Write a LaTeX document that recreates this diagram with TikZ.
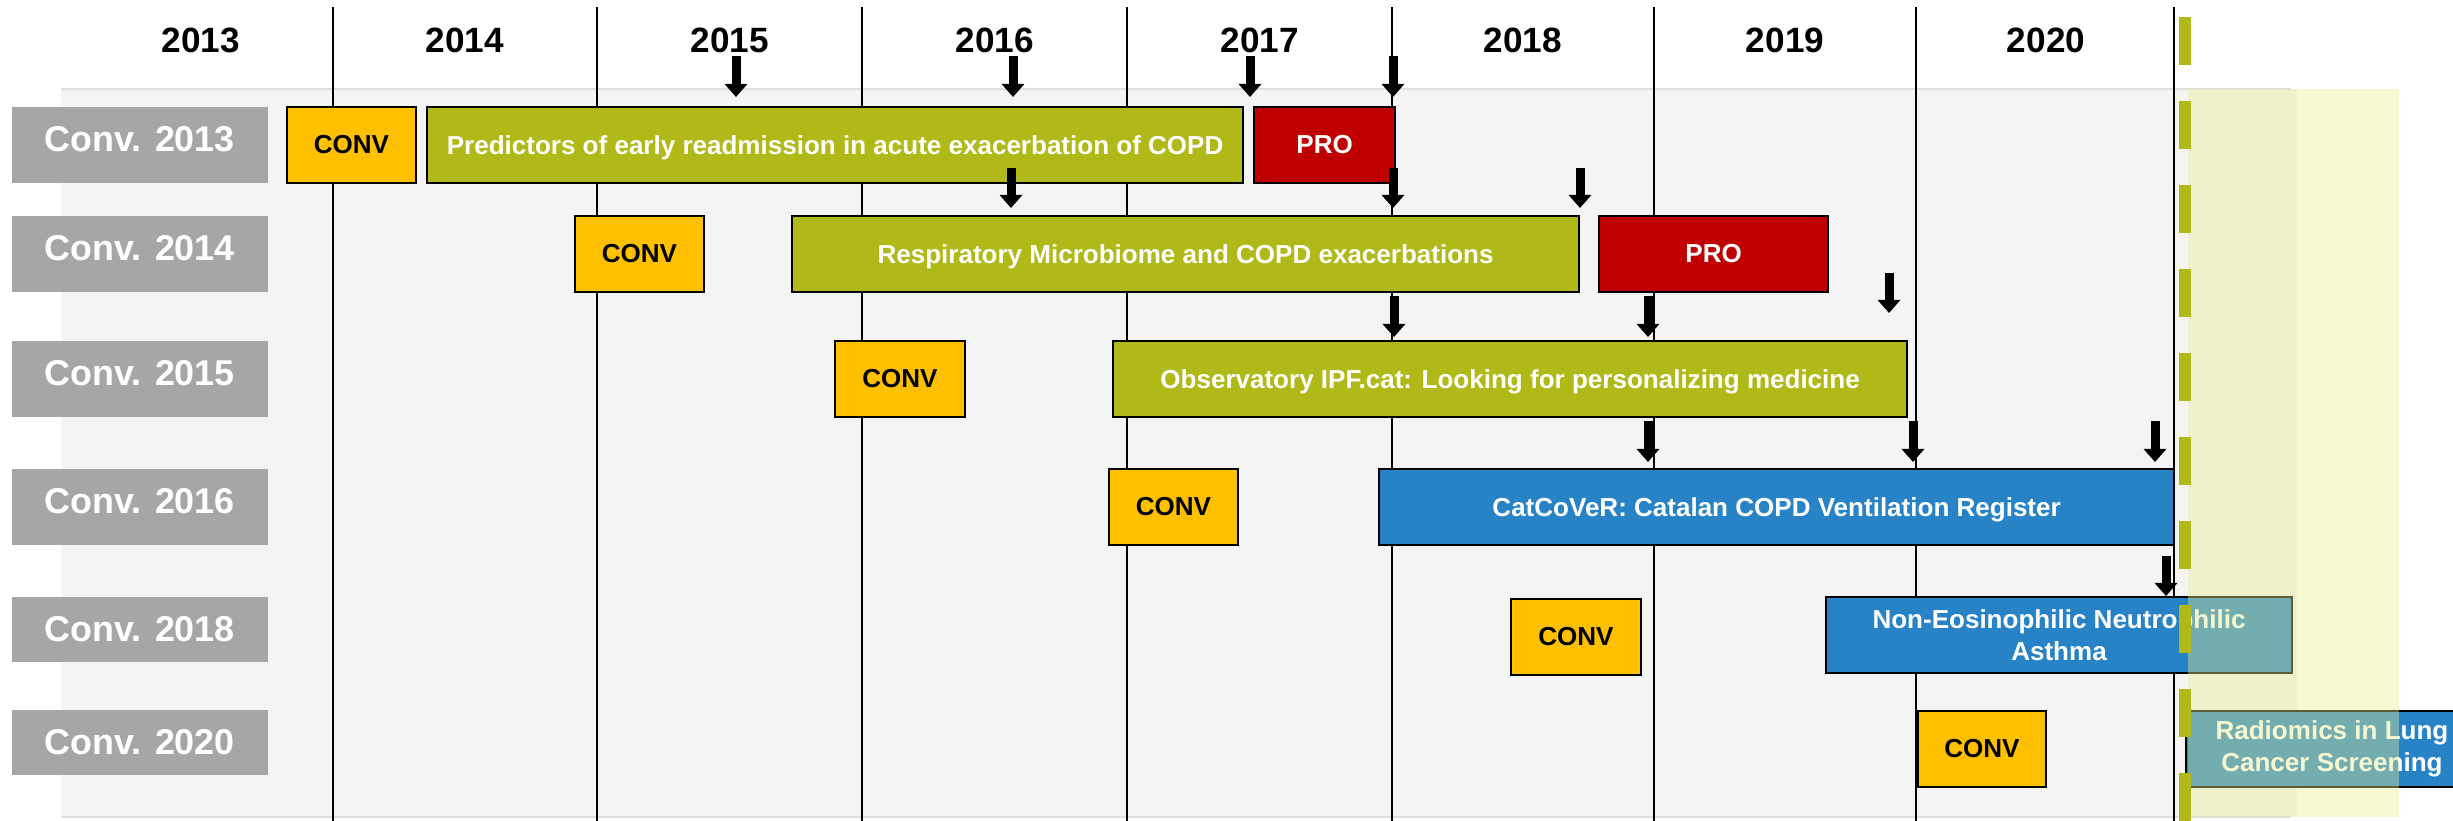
\documentclass[tikz,border=0pt]{standalone}
\usepackage{fontspec}
\setmainfont{Liberation Sans}
\usetikzlibrary{arrows.meta,positioning}

\definecolor{convyellow}{RGB}{255,192,0}
\definecolor{prored}{RGB}{192,0,0}
\definecolor{projgreen}{RGB}{177,185,24}
\definecolor{projblue}{RGB}{39,131,198}
\definecolor{callgray}{RGB}{166,166,166}
\definecolor{panel}{RGB}{244,244,244}
\definecolor{panelline}{RGB}{223,223,223}
\definecolor{future}{RGB}{230,237,142}

\begin{document}
\begin{tikzpicture}[
x=0.01cm, y=-0.01cm,
yearlabel/.style={font=\bfseries\fontsize{10}{12}\selectfont},
yearline/.style={line width=0.6pt},
convlabel/.style={rectangle, fill=callgray, text=white, anchor=north west, minimum width=2.56cm, minimum height=0.76cm, text depth=0.3em, inner sep=0pt, font=\bfseries\fontsize{10.2}{12}\selectfont},
shortlabel/.style={convlabel, minimum height=0.65cm, text depth=0pt},
taskbox/.style={rectangle, draw=black, line width=0.5pt, anchor=north west, minimum height=0.76cm, inner sep=0pt, align=center, font=\bfseries\fontsize{7.4}{9.1}\selectfont},
oneline/.style={text depth=0pt},
conv/.style={taskbox, oneline, fill=convyellow, minimum width=1.29cm},
pro/.style={taskbox, oneline, fill=prored, text=white},
project/.style={taskbox, oneline, fill=projgreen, text=white},
register/.style={taskbox, fill=projblue, text=white},
milestone/.style={-{Triangle[width=0.22cm,length=0.13cm]}, line width=0.09cm}
]
\useasboundingbox (0,0) rectangle (2453,821);

% Background panel
\fill[panel] (61,89) rectangle (2297,817);
\draw[panelline, line width=0.6pt] (61,89) -- (2291,89) (61,817) -- (2291,817);

% Year grid
\foreach \x in {333,597,862,1127,1392,1654,1916,2174}
  \draw[yearline] (\x,7) -- (\x,821);
\foreach \x/\yr in {201/2013,465/2014,730/2015,995/2016,1260/2017,1523/2018,1785/2019,2046/2020}
  \node (y\yr) [yearlabel] at (\x,40.5) {\yr};

% Calls
\node (call13) [convlabel] at (11,106) {Conv. 2013};
\node (call14) [convlabel] at (11,215) {Conv. 2014};
\node (call15) [convlabel] at (11,340) {Conv. 2015};
\node (call16) [convlabel] at (11,468) {Conv. 2016};
\node (call18) [shortlabel] at (11,596) {Conv. 2018};
\node (call20) [shortlabel] at (11,709) {Conv. 2020};

% Projects per call
\node (conv13) [conv] at (286,106) {CONV};
\node (pred13) [project, minimum width=8.16cm] at (426,106) {Predictors of early readmission in acute exacerbation of COPD};
\node (pro13) [pro, minimum width=1.41cm, right=0.09cm of pred13] {PRO};

\node (conv14) [conv] at (574,215) {CONV};
\node (resp14) [project, minimum width=7.87cm] at (791,215) {Respiratory Microbiome and COPD exacerbations};
\node (pro14) [pro, minimum width=2.29cm, right=0.18cm of resp14] {PRO};

\node (conv15) [conv, minimum width=1.30cm] at (834,340) {CONV};
\node (ipf15) [project, minimum width=7.94cm] at (1112,340) {Observatory IPF.cat: Looking for personalizing medicine};

\node (conv16) [conv] at (1108,468) {CONV};
\node (cat16) [register, oneline, minimum width=7.95cm] at (1378,468) {CatCoVeR: Catalan COPD Ventilation Register};

\node (conv18) [conv, minimum width=1.30cm] at (1510,598) {CONV};
\node (neut18) [register, minimum width=4.66cm] at (1825,596) {Non-Eosinophilic Neutrophilic\\Asthma};

\node (conv20) [conv, minimum width=1.28cm] at (1917,710) {CONV};
\node (rad20) [register, minimum width=2.92cm] at (2185,710) {Radiomics in Lung\\Cancer Screening};

% Milestones
\foreach \x/\ya/\yb in {736/56/97, 1013/56/97, 1250/56/97, 1393/56/97,
    1011/168/208, 1393/168/208, 1580/168/208,
    1394/296/337, 1648/296/337, 1889/273/313,
    1648/421/462, 1913/421/462, 2155/421/462,
    2166/556/596}
  \draw[milestone] (\x,\ya) -- (\x,\yb);

% Upcoming period
\fill[future, fill opacity=0.4] (2188,89) rectangle (2399,817);
\draw[projgreen, line width=0.12cm, dash pattern=on 0.48cm off 0.36cm] (2185,17) -- (2185,821);

\end{tikzpicture}
\end{document}
